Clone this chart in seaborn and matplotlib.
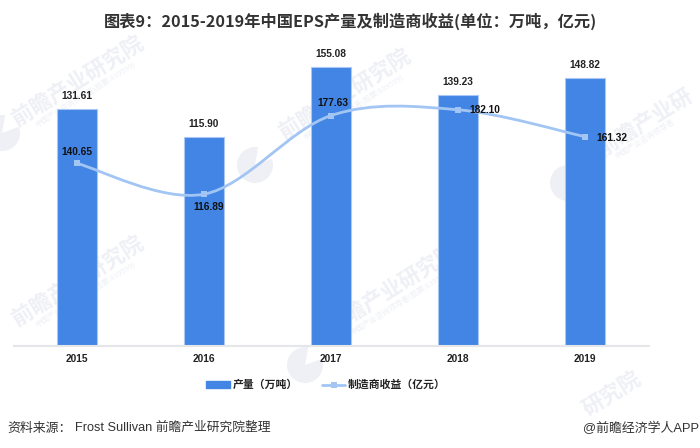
import numpy as np
import pandas as pd
import matplotlib.pyplot as plt
import seaborn as sns
from matplotlib.lines import Line2D
from matplotlib.patches import Circle, Patch, PathPatch, Wedge
from matplotlib.path import Path

years = ["2015", "2016", "2017", "2018", "2019"]
output_wt = [131.61, 115.90, 155.08, 139.23, 148.82]
revenue = [140.65, 116.89, 177.63, 182.10, 161.32]

BAR_COLOR = "#4285E4"
LINE_COLOR = "#A2C5F4"
TEXT_COLOR = "#222222"
WM_COLOR = "#EEF0F5"
LATIN = "Liberation Sans"
MIXED = ["Liberation Sans", "Noto Sans CJK SC"]

sns.set_theme(style="white")
plt.rcParams["font.family"] = ["Noto Sans CJK SC", "DejaVu Sans"]

W, H = 700, 448
fig = plt.figure(figsize=(W / 100, H / 100), dpi=100)

# watermark layer in pixel coordinates, sits under the chart axes
bg = fig.add_axes([0, 0, 1, 1], zorder=-1)
bg.set_xlim(0, W)
bg.set_ylim(H, 0)
bg.axis("off")
for x, y, text in [(78, 82, "前瞻产业研究院"), (78, 282, "前瞻产业研究院"), (345, 95, "前瞻产业研究院"),
                   (392, 290, "前瞻产业研究院"), (645, 122, "前瞻产业研"), (612, 394, "研究院")]:
    bg.text(x, y, text, rotation=32, rotation_mode="anchor", ha="center", va="center",
            fontsize=15.5, fontweight="bold", color=WM_COLOR)
for x, y, text in [(86, 95, "中国产业咨询领导者(股票:839599)"), (86, 295, "中国产业咨询领导者(股票:839599)"),
                   (354, 108, "中国产业咨询领导者(股票:839599)"), (401, 303, "中国产业咨询领导者(股票:839599)"),
                   (645, 139, "中国产业咨询领导者")]:
    bg.text(x, y, text, rotation=32, rotation_mode="anchor", ha="center", va="center",
            fontsize=5.5, color=WM_COLOR)
for x, y in [(255, 165), (568, 183), (305, 365), (2, 133)]:
    bg.add_patch(Circle((x, y), 18, color=WM_COLOR, lw=0))
    bg.add_patch(Wedge((x, y), 19, -80, -20, color="white", lw=0))

# axes box in pixels: x 13.5-648.5, baseline at y=345.5, top at y=40
ax = fig.add_axes([13.5 / W, (H - 345.5) / H, 635 / W, 305.5 / H])
ax.patch.set_visible(False)

df = pd.DataFrame({"year": years, "output": output_wt})
sns.barplot(data=df, x="year", y="output", color=BAR_COLOR, saturation=1,
            width=0.31, edgecolor="#A9C8F3", linewidth=0.8, ax=ax, zorder=2)
ax.set_xlim(-0.5, 4.5)
ax.set_ylim(0, 170)
ax.set_xlabel("")
ax.set_ylabel("")
ax.set_yticks([])
ax.tick_params(axis="x", length=0, pad=6)
for lab in ax.get_xticklabels():
    lab.set_fontsize(7.3)
    lab.set_fontweight("bold")
    lab.set_family(LATIN)
    lab.set_color(TEXT_COLOR)
sns.despine(ax=ax, left=True)
ax.spines["bottom"].set_color("#E4E6EA")
ax.spines["bottom"].set_linewidth(1.5)

ax2 = ax.twinx()
ax2.patch.set_visible(False)
ax2.set_ylim(0, 236)
ax2.set_yticks([])
ax2.set_ylabel("")
sns.despine(ax=ax2, left=True, right=True, bottom=True)

# smoothed line, bezier handles taken from neighbouring points
xs = np.arange(len(years), dtype=float)
ys = np.array(revenue)
verts = [(xs[0], ys[0])]
codes = [Path.MOVETO]
for i in range(len(xs) - 1):
    i0 = max(i - 1, 0)
    i3 = min(i + 2, len(xs) - 1)
    verts.append((xs[i] + (xs[i + 1] - xs[i0]) / 6, ys[i] + (ys[i + 1] - ys[i0]) / 6))
    verts.append((xs[i + 1] - (xs[i3] - xs[i]) / 6, ys[i + 1] - (ys[i3] - ys[i]) / 6))
    verts.append((xs[i + 1], ys[i + 1]))
    codes += [Path.CURVE4] * 3
ax2.add_patch(PathPatch(Path(verts, codes), fill=False, edgecolor=LINE_COLOR, lw=2,
                        capstyle="round", zorder=3))
sns.lineplot(x=xs, y=ys, ax=ax2, color=LINE_COLOR, linestyle="none", marker="s",
             markersize=5, markeredgewidth=0, legend=False, zorder=4)

for x, v in zip(xs, output_wt):
    ax.annotate(f"{v:.2f}", (x, v), xytext=(0, 9.4), textcoords="offset points", ha="center",
                va="center", fontsize=7.3, fontweight="bold", family=LATIN,
                color=TEXT_COLOR, zorder=6)

# revenue label offsets, in points, as placed in the reference
label_offsets = [(0, 8), (3, -9.4), (1, 9.4), (19, 0), (19, -1)]
for x, v, off in zip(xs, revenue, label_offsets):
    ax2.annotate(f"{v:.2f}", (x, v), xytext=off, textcoords="offset points", ha="center",
                 va="center", fontsize=7.3, fontweight="bold", family=LATIN,
                 color="#111111", zorder=6)

fig.text(350 / W, 1 - 21 / H, "图表9：2015-2019年中国EPS产量及制造商收益(单位：万吨，亿元)",
         ha="center", va="center", fontsize=11.7, fontweight="bold", color="#333333")

handles = [Patch(color=BAR_COLOR),
           Line2D([], [], color=LINE_COLOR, lw=2, marker="s", markersize=5, markeredgewidth=0)]
leg = fig.legend(handles, ["产量（万吨）", "制造商收益（亿元）"], loc="center", ncol=2,
                 bbox_to_anchor=(326 / W, 1 - 385 / H), frameon=False, fontsize=7.8,
                 handlelength=2.2, handleheight=0.6, handletextpad=0.25, columnspacing=2.2)
for t in leg.get_texts():
    t.set_fontweight("bold")
    t.set_color(TEXT_COLOR)

fig.text(7 / W, 1 - 428 / H, "资料来源：", ha="left", va="center", fontsize=9.3, color="#333333")
fig.text(75 / W, 1 - 428 / H, "Frost Sullivan 前瞻产业研究院整理", ha="left", va="center",
         fontsize=9.2, family=MIXED, color="#333333")
fig.text(699.5 / W, 1 - 428 / H, "@前瞻经济学人APP", ha="right", va="center", fontsize=9.3,
         family=MIXED, color="#333333")

fig.savefig("out.png", dpi=100)
